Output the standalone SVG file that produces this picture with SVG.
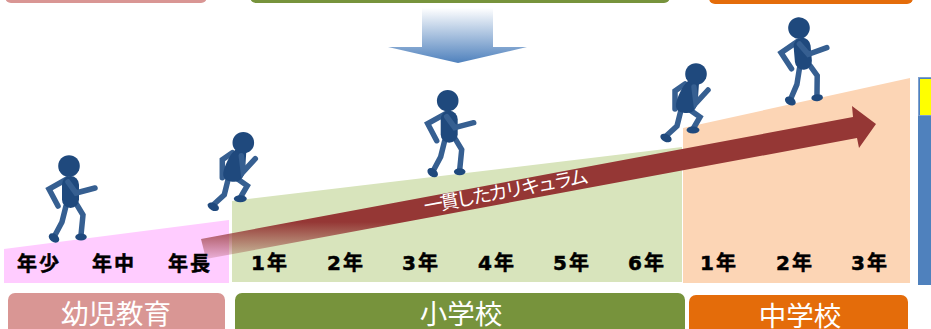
<svg xmlns="http://www.w3.org/2000/svg" width="931" height="329" viewBox="0 0 931 329">
  <style>
    .grade { font-family: "DejaVu Sans", "Noto Sans CJK JP", sans-serif; font-size: 20px; font-weight: 700; fill: #000; stroke: #000; stroke-width: 0.5; text-anchor: middle; letter-spacing: 2px; }
    .stage { font-family: "Noto Sans CJK JP", "Liberation Sans", sans-serif; font-size: 27.5px; font-weight: 400; fill: #fff; text-anchor: middle; }
    .limb { fill: none; stroke: #365f91; stroke-width: 5.5; stroke-linecap: round; stroke-linejoin: miter; }
    .dark { fill: #1f497d; }
  </style>
  <defs>
    <linearGradient id="fadeRed" gradientUnits="userSpaceOnUse" x1="0" y1="222" x2="0" y2="264">
      <stop offset="0" stop-color="#953735"/>
      <stop offset="1" stop-color="#953735" stop-opacity="0.08"/>
    </linearGradient>
    <linearGradient id="fadeBlue" x1="0" y1="0" x2="0" y2="1">
      <stop offset="0" stop-color="#4f81bd" stop-opacity="0"/>
      <stop offset="1" stop-color="#4f81bd"/>
    </linearGradient>
    <!-- walking pose, origin at the centre of the head -->
    <g id="walker">
      <path class="limb" d="M-2 13 L-20 23 L-11 40"/>
      <path class="limb" d="M-3 40 L-7 56 L-15 71"/>
      <path class="limb" d="M8 39 L14 49 L12 69"/>
      <rect class="dark" x="-7" y="10" width="17" height="32" rx="8.500"/>
      <circle class="dark" cx="0" cy="0" r="10.800"/>
      <ellipse class="dark" cx="-15" cy="72" rx="5.8" ry="4" transform="rotate(35 -15 72)"/>
      <ellipse class="dark" cx="12" cy="71" rx="5.8" ry="3.500"/>
      <path class="limb" d="M-1 16 L7 27 L26 22"/>
    </g>
    <!-- running pose, origin at the centre of the head -->
    <g id="runner">
      <path class="limb" d="M-11 10 L-21 17 L-21 35"/>
      <path class="limb" d="M-15 36 L-19 52 L-31 63"/>
      <path class="limb" d="M-6 36 L4 43 L-3 55"/>
      <path class="dark" d="M-8 7 C-14 12 -19 24 -20 30 C-21 37 -15 39 -9 39 C-2 39 2 33 2 24 L3 9 Z"/>
      <circle class="dark" cx="0" cy="0" r="10.800"/>
      <ellipse class="dark" cx="-30" cy="64" rx="6" ry="3.800" transform="rotate(25 -30 64)"/>
      <ellipse class="dark" cx="-3" cy="56" rx="6.500" ry="3.500"/>
      <path class="limb" d="M-2 13 L0 29 L12 16"/>
    </g>
  </defs>

  <g id="top-bars">
    <rect x="5" y="-20" width="202" height="23" rx="6" fill="#d99694"/>
    <rect x="250" y="-20" width="420" height="23" rx="6" fill="#77933c"/>
    <rect x="709" y="-20" width="204" height="24" rx="6" fill="#e46c0a"/>
  </g>

  <g id="down-arrow">
    <path d="M422 8 H493 V47 H527 L458 63 L388 47 H422 Z" fill="url(#fadeBlue)"/>
  </g>

  <g id="kindergarten-slope">
    <path d="M4 249 L229 220 V283 H4 Z" fill="#ffccff"/>
  </g>
  <g id="elementary-slope">
    <path d="M232 201 L682 147 V282 H232 Z" fill="#d8e4bc"/>
  </g>
  <g id="junior-high-slope">
    <path d="M683 128 L910 78 V283 H683 Z" fill="#fcd5b5"/>
  </g>

  <g id="side-panel">
    <rect x="918" y="77" width="20" height="208" fill="#4f81bd"/>
    <rect x="918.500" y="77.500" width="20" height="38" fill="none" stroke="#7da0d0"/>
    <rect x="920" y="79" width="14" height="36" fill="#ffff00"/>
  </g>

  <g id="curriculum-arrow">
    <path d="M201 239 L853 117 L852 106 L876 124 L859 148 L857 138 L206 259 Z" fill="url(#fadeRed)"/>
    <text x="506" y="198" transform="rotate(-10.600 506 198)" font-family="'Noto Sans CJK JP', 'Liberation Sans', sans-serif" font-size="19" font-weight="400" letter-spacing="-2.500" fill="#fff" text-anchor="middle">一貫したカリキュラム</text>
  </g>

  <g id="figures">
    <use id="figure-1" href="#walker" transform="translate(69 166)"/>
    <use id="figure-2" href="#runner" transform="translate(243.300 142.700)"/>
    <use id="figure-3" href="#walker" transform="translate(447.700 100.700)"/>
    <use id="figure-4" href="#runner" transform="translate(696 74)"/>
    <use id="figure-5" href="#walker" transform="translate(799 28) rotate(-5)"/>
  </g>

  <g id="grades">
    <text class="grade" x="39" y="271">年少</text>
    <text class="grade" x="114" y="271">年中</text>
    <text class="grade" x="190" y="271">年長</text>
    <text class="grade" x="270" y="270">1年</text>
    <text class="grade" x="346" y="270">2年</text>
    <text class="grade" x="421" y="270">3年</text>
    <text class="grade" x="497" y="270">4年</text>
    <text class="grade" x="572" y="270">5年</text>
    <text class="grade" x="647" y="270">6年</text>
    <text class="grade" x="719" y="270">1年</text>
    <text class="grade" x="795" y="270">2年</text>
    <text class="grade" x="870" y="270">3年</text>
  </g>

  <g id="stage-kindergarten">
    <rect x="8" y="293" width="217" height="50" rx="7" fill="#d99694"/>
    <text class="stage" x="116" y="324">幼児教育</text>
  </g>
  <g id="stage-elementary">
    <rect x="235" y="293" width="450" height="50" rx="7" fill="#77933c"/>
    <text class="stage" x="461" y="324">小学校</text>
  </g>
  <g id="stage-junior-high">
    <rect x="689" y="295" width="219" height="50" rx="7" fill="#e46c0a"/>
    <text class="stage" x="800" y="326">中学校</text>
  </g>
</svg>
